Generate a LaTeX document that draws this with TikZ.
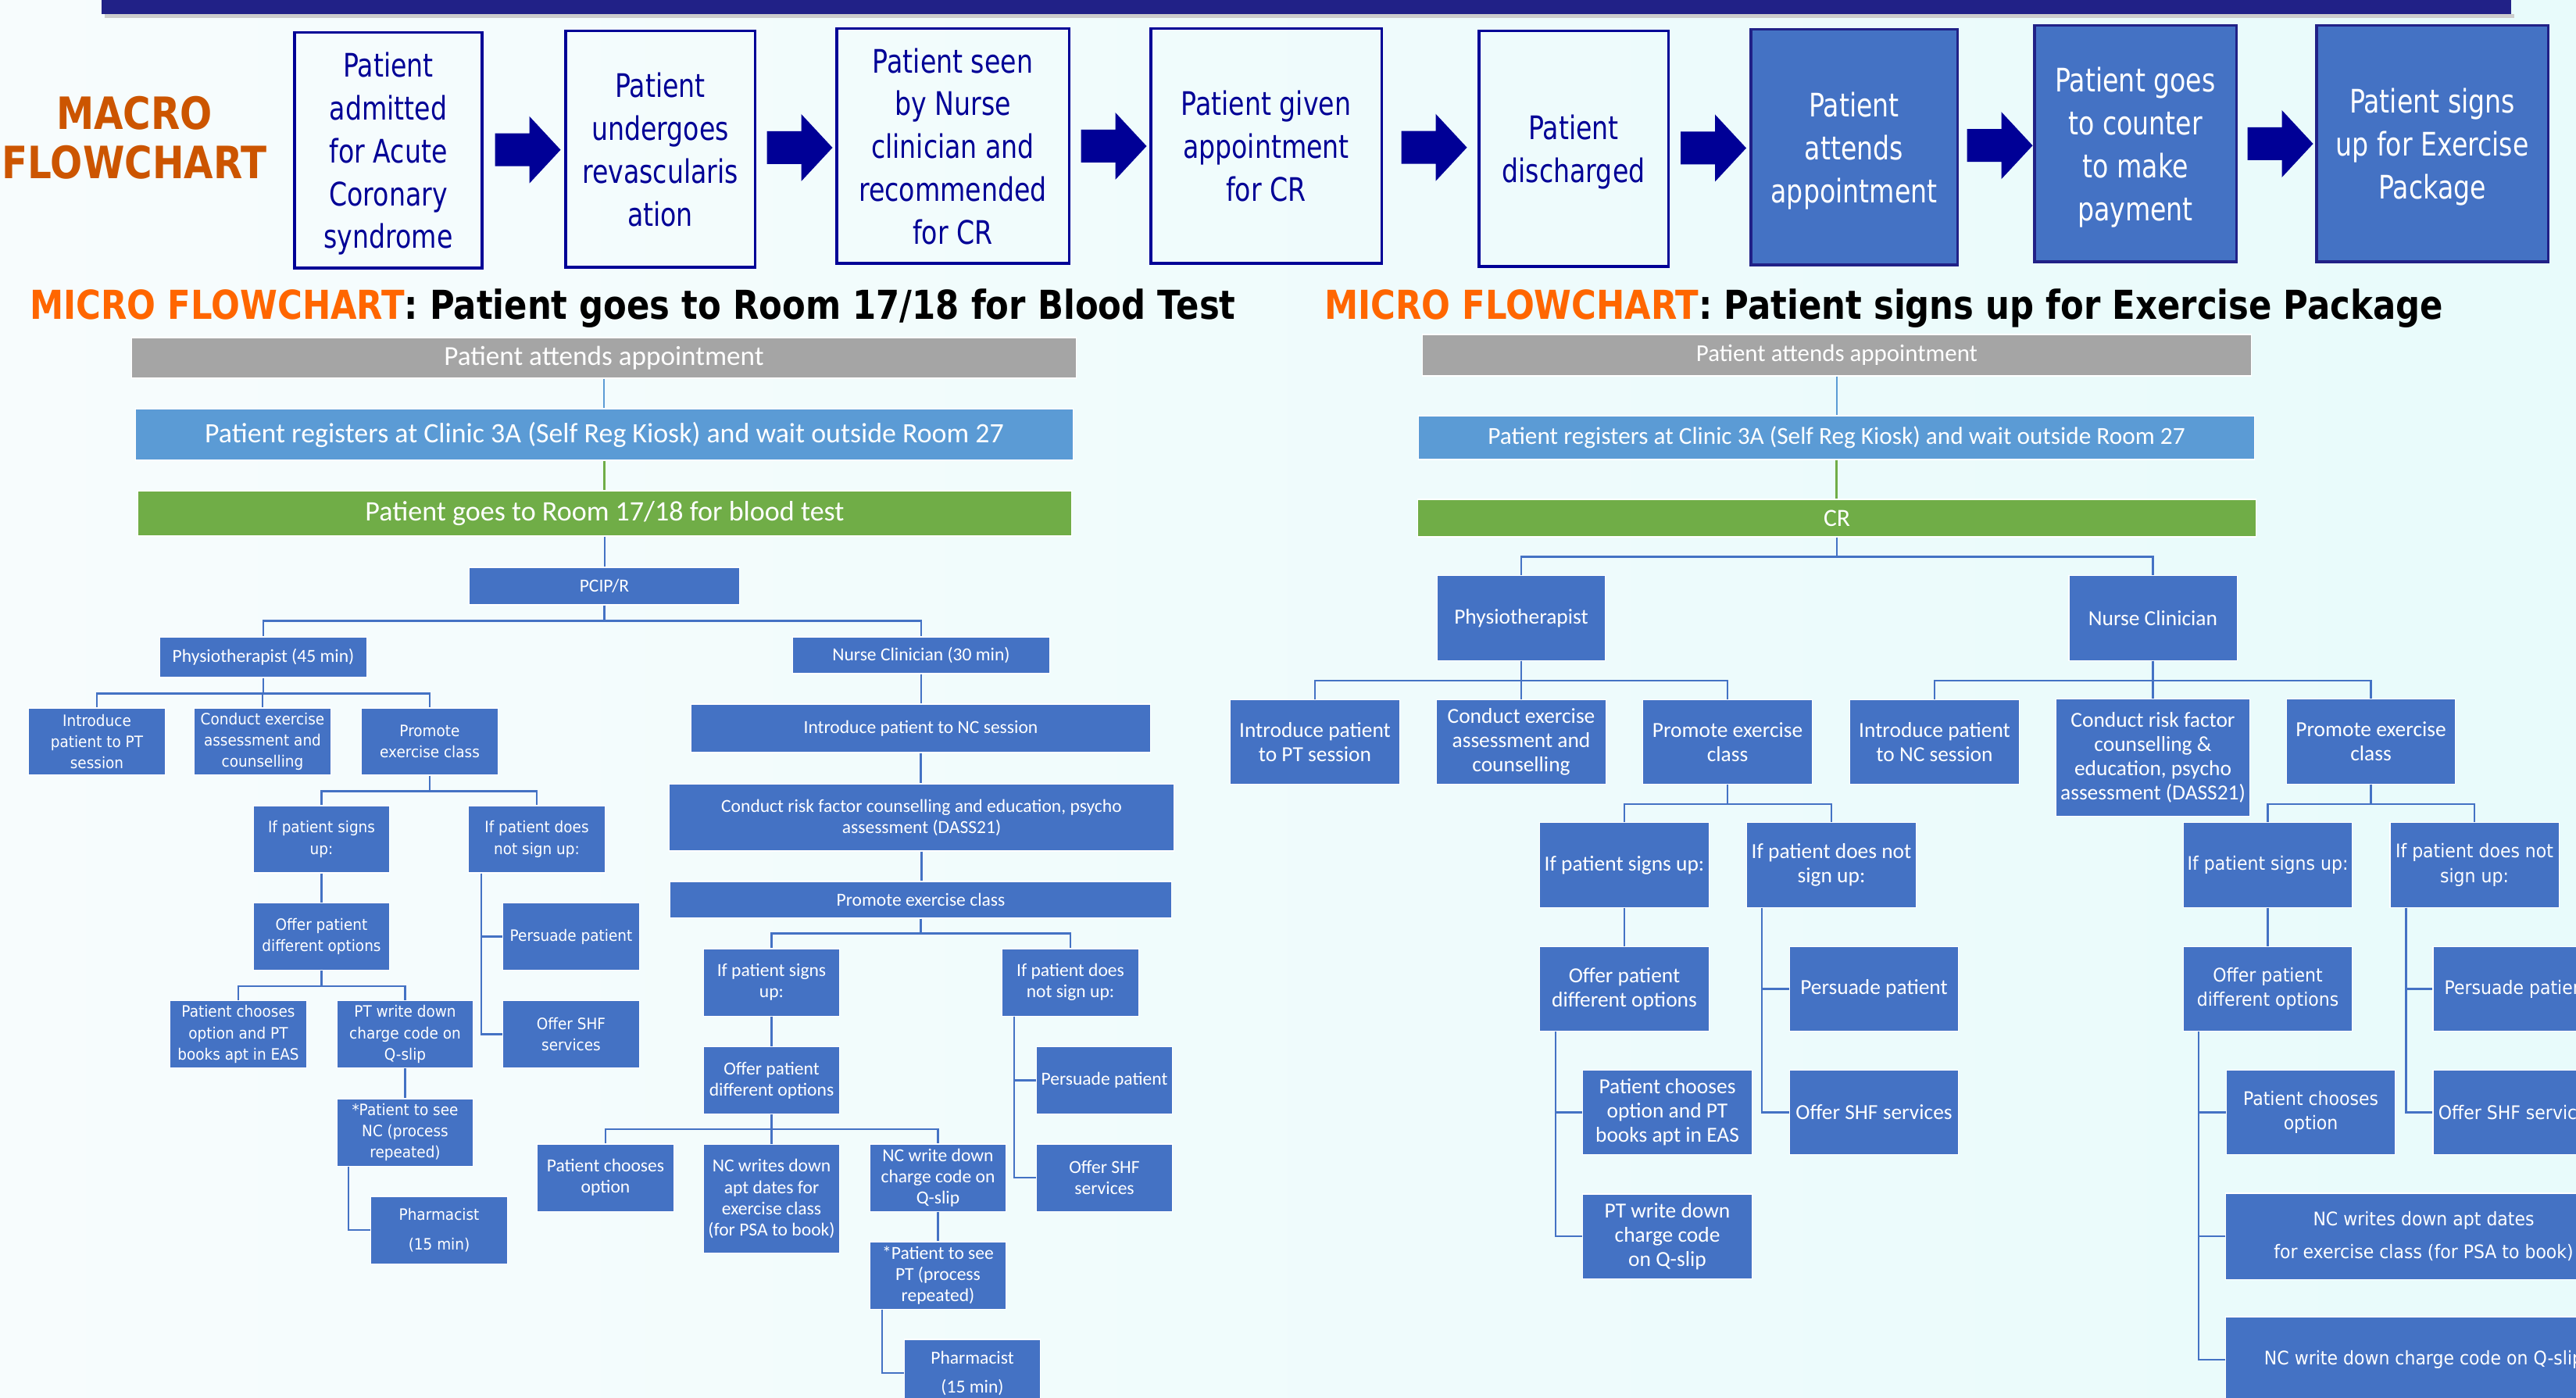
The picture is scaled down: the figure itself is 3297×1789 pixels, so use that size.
\documentclass[tikz,border=0pt]{standalone}
\usepackage{fontspec}
\setmainfont{DejaVu Sans}
\newfontfamily\macrofont{DejaVu Sans}[FakeStretch=0.8]
\newfontfamily\headfont{DejaVu Sans}[FakeStretch=0.85]
\newfontfamily\calfont{Carlito}
\newfontfamily\verfont{DejaVu Sans}[FakeStretch=0.92]
\usetikzlibrary{calc}

\definecolor{navy}{RGB}{0,0,150}
\definecolor{barnavy}{RGB}{33,33,135}
\definecolor{boxblue}{RGB}{68,114,196}
\definecolor{lightblue}{RGB}{91,155,213}
\definecolor{leafgreen}{RGB}{112,173,71}
\definecolor{midgray}{RGB}{165,165,165}
\definecolor{macroorange}{RGB}{204,85,0}
\definecolor{microorange}{RGB}{255,102,0}
\definecolor{bgleft}{RGB}{247,252,253}
\definecolor{bgright}{RGB}{232,251,251}

\tikzset{
  boxsize/.style 2 args={minimum width=#1cm, minimum height=#2cm},
  macro/.style={draw=navy, line width=0.9pt, text=navy, align=center, inner sep=0pt, text depth=0pt,
    font=\macrofont\fontsize{11.8}{15.6}\selectfont},
  macrofill/.style={macro, draw=barnavy, fill=boxblue, text=white},
  mbox/.style={fill=boxblue, draw=white, line width=0.3pt, text=white, align=center, inner sep=0pt},
  lbox/.style={mbox, boxsize={1.74}{0.86}},
  rbox/.style={mbox, boxsize={2.16}{1.08}},
  lcal/.style={font=\calfont\fontsize{6.7}{7.7}\selectfont},
  lver/.style={font=\verfont\fontsize{5.7}{7.7}\selectfont},
  rcal/.style={font=\calfont\fontsize{7.8}{8.8}\selectfont},
  rver/.style={font=\verfont\fontsize{6.8}{9}\selectfont},
  link/.style={draw=boxblue, line width=0.6pt},
  headline/.style={font=\headfont\bfseries\fontsize{14.5}{17}\selectfont, inner sep=0pt},
}

\begin{document}
\begin{tikzpicture}[x=0.01cm, y=-0.01cm]
  \useasboundingbox (0,0) rectangle (3297,1789);
  \clip (0,0) rectangle (3297,1789);
  \shade[left color=bgleft, right color=bgright] (0,0) rectangle (3297,1789);
  \fill[black!20] (134,18) rectangle (3218,23);
  \fill[barnavy] (130,0) rectangle (3214,18);

  % macro flowchart
  \node[headline, font=\headfont\bfseries\fontsize{16.2}{18}\selectfont, text=macroorange, align=center] (macrotitle) at (172,176) {MACRO\\FLOWCHART};
  \node[macro, boxsize={2.40}{3.01}] (m1) at (497,192.5) {Patient\\admitted\\for Acute\\Coronary\\syndrome};
  \node[macro, boxsize={2.42}{3.02}] (m2) at (845,191) {Patient\\undergoes\\revascularis\\ation};
  \node[macro, boxsize={2.97}{3.00}] (m3) at (1219.5,187) {Patient seen\\by Nurse\\clinician and\\recommended\\for CR};
  \node[macro, boxsize={2.95}{3.00}] (m4) at (1620.5,187) {Patient given\\appointment\\for CR};
  \node[macro, boxsize={2.42}{3.01}] (m5) at (2014,190.5) {Patient\\discharged};
  \node[macrofill, boxsize={2.64}{3.01}] (m6) at (2373,188.5) {Patient\\attends\\appointment};
  \node[macrofill, boxsize={2.58}{3.02}] (m7) at (2733,184) {Patient goes\\to counter\\to make\\payment};
  \node[macrofill, boxsize={2.96}{3.02}] (m8) at (3113,184) {Patient signs\\up for Exercise\\Package};
  \foreach \a/\b in {m1/m2,m2/m3,m3/m4,m4/m5,m5/m6,m6/m7,m7/m8}
    \fill[navy] ($(\a.east)!.5!(\b.west)+(-37,-21)$) -- ++(44,0) -- ++(0,-22) -- ++(40,43)
      -- ++(-40,43) -- ++(0,-22) -- ++(-44,0) -- cycle;

  % micro flowchart: blood test
  \node[headline] (lhead) at (810,395) {\textcolor{microorange}{MICRO FLOWCHART}: Patient goes to Room 17/18 for Blood Test};
  \node[mbox, fill=midgray, boxsize={12.08}{0.52}, font=\calfont\fontsize{10}{12}\selectfont] (lattend) at (773,458) {Patient attends appointment};
  \node[mbox, fill=lightblue, boxsize={11.99}{0.66}, font=\calfont\fontsize{10.2}{12}\selectfont] (lreg) at (773.5,556) {Patient registers at Clinic 3A (Self Reg Kiosk) and wait outside Room 27};
  \node[mbox, fill=leafgreen, boxsize={11.94}{0.58}, font=\calfont\fontsize{10.25}{12}\selectfont] (lroom) at (774,657) {Patient goes to Room 17/18 for blood test};
  \node[mbox, lcal, boxsize={3.45}{0.48}] (lpcip) at (773.5,750) {PCIP/R};
  \node[mbox, lcal, boxsize={2.64}{0.52}] (lpt) at (337,841) {Physiotherapist (45 min)};
  \node[mbox, lcal, boxsize={3.28}{0.47}] (lnc) at (1179,838.5) {Nurse Clinician (30 min)};

  \node[lbox, lver] (lptintro) at (124,949) {Introduce\\patient to PT\\session};
  \node[lbox, lver] (lptconduct) at (336,949) {Conduct exercise\\assessment and\\counselling};
  \node[lbox, lver] (lptpromote) at (550,949) {Promote\\exercise class};
  \node[lbox, lver] (lptyes) at (411.5,1074) {If patient signs\\up:};
  \node[lbox, lver] (lptno) at (687,1074) {If patient does\\not sign up:};
  \node[lbox, lver] (lptoffer) at (411.5,1198.5) {Offer patient\\different options};
  \node[lbox, lver] (lptchoose) at (305,1323.5) {Patient chooses\\option and PT\\books apt in EAS};
  \node[lbox, lver] (lptcharge) at (518.5,1323.5) {PT write down\\charge code on\\Q-slip};
  \node[lbox, lver] (lptseenc) at (518.5,1449) {*Patient to see\\NC (process\\repeated)};
  \node[lbox, lver] (lptpharm) at (562,1574) {Pharmacist\\[3.1pt](15 min)};
  \node[lbox, lver] (lptpersuade) at (731,1198.5) {Persuade patient};
  \node[lbox, lver] (lptshf) at (731,1323.5) {Offer SHF\\services};

  \node[mbox, lcal, boxsize={5.87}{0.62}] (lncintro) at (1178.5,932) {Introduce patient to NC session};
  \node[mbox, lcal, boxsize={6.45}{0.86}] (lncconduct) at (1179.5,1046) {Conduct risk factor counselling and education, psycho\\assessment (DASS21)};
  \node[mbox, lcal, boxsize={6.41}{0.47}] (lncpromote) at (1178.5,1151.5) {Promote exercise class};
  \node[lbox, lcal] (lncyes) at (987.5,1257) {If patient signs\\up:};
  \node[lbox, lcal] (lncno) at (1370,1257) {If patient does\\not sign up:};
  \node[lbox, lcal] (lncoffer) at (987.5,1382.5) {Offer patient\\different options};
  \node[lbox, lcal] (lncchoose) at (775,1507) {Patient chooses\\option};
  \node[lbox, lcal, boxsize={1.73}{1.38}] (lncdates) at (987.5,1534) {NC writes down\\apt dates for\\exercise class\\(for PSA to book)};
  \node[lbox, lcal] (lnccharge) at (1200.5,1507) {NC write down\\charge code on\\Q-slip};
  \node[lbox, lcal] (lncseept) at (1200.5,1632) {*Patient to see\\PT (process\\repeated)};
  \node[lbox, lcal] (lncpharm) at (1244.5,1757) {Pharmacist\\[2.8pt](15 min)};
  \node[lbox, lcal] (lncpersuade) at (1413.5,1382.5) {Persuade patient};
  \node[lbox, lcal] (lncshf) at (1413.5,1507) {Offer SHF\\services};

  \draw[lightblue, line width=0.6pt] (lattend.south) -- (lattend.south |- lreg.north);
  \draw[leafgreen, line width=0.6pt] (lreg.south) -- (lreg.south |- lroom.north);
  \draw[link] (lroom.south) -- (lroom.south |- lpcip.north);
  \draw[link] (lpcip.south) -- ++(0,20) -| (lpt.north);
  \draw[link] (lpcip.south) -- ++(0,20) -| (lnc.north);
  \foreach \c in {lptintro,lptconduct,lptpromote}
    \draw[link] (lpt.south) -- ++(0,20) -| (\c.north);
  \foreach \c in {lptyes,lptno}
    \draw[link] (lptpromote.south) -- ++(0,20) -| (\c.north);
  \draw[link] (lptyes.south) -- (lptyes.south |- lptoffer.north);
  \foreach \c in {lptchoose,lptcharge}
    \draw[link] (lptoffer.south) -- ++(0,20) -| (\c.north);
  \draw[link] (lptcharge.south) -- (lptcharge.south |- lptseenc.north);
  \draw[link] ($(lptseenc.south west)+(15,0)$) |- (lptpharm.west);
  \draw[link] ($(lptno.south west)+(17,0)$) |- (lptpersuade.west);
  \draw[link] ($(lptno.south west)+(17,0)$) |- (lptshf.west);

  \draw[link] (lnc.south) -- (lnc.south |- lncintro.north);
  \draw[link] (lncintro.south) -- (lncintro.south |- lncconduct.north);
  \draw[link] (lncconduct.south) -- (lncconduct.south |- lncpromote.north);
  \foreach \c in {lncyes,lncno}
    \draw[link] (lncpromote.south) -- ++(0,19) -| (\c.north);
  \draw[link] (lncyes.south) -- (lncyes.south |- lncoffer.north);
  \foreach \c in {lncchoose,lncdates,lnccharge}
    \draw[link] (lncoffer.south) -- ++(0,19) -| (\c.north);
  \draw[link] (lnccharge.south) -- (lnccharge.south |- lncseept.north);
  \draw[link] ($(lncseept.south west)+(16,0)$) |- (lncpharm.west);
  \draw[link] ($(lncno.south west)+(16,0)$) |- (lncpersuade.west);
  \draw[link] ($(lncno.south west)+(16,0)$) |- (lncshf.west);

  % micro flowchart: exercise package
  \node[headline] (rhead) at (2411,395) {\textcolor{microorange}{MICRO FLOWCHART}: Patient signs up for Exercise Package};
  \node[mbox, fill=midgray, boxsize={10.60}{0.53}, font=\calfont\fontsize{8.8}{10}\selectfont] (rattend) at (2351,454.5) {Patient attends appointment};
  \node[mbox, fill=lightblue, boxsize={10.69}{0.56}, font=\calfont\fontsize{8.9}{10}\selectfont] (rreg) at (2350.5,560) {Patient registers at Clinic 3A (Self Reg Kiosk) and wait outside Room 27};
  \node[mbox, fill=leafgreen, boxsize={10.72}{0.48}, font=\calfont\fontsize{9}{10}\selectfont] (rcr) at (2351,663) {CR};
  \node[mbox, rcal, boxsize={2.14}{1.08}] (rpt) at (1947,791) {Physiotherapist};
  \node[mbox, rcal, boxsize={2.15}{1.08}] (rnc) at (2755.5,791) {Nurse Clinician};

  \node[rbox, rcal] (rptintro) at (1683,949.5) {Introduce patient\\to PT session};
  \node[rbox, rcal] (rptconduct) at (1947,949.5) {Conduct exercise\\assessment and\\counselling};
  \node[rbox, rcal] (rptpromote) at (2211,949.5) {Promote exercise\\class};
  \node[rbox, rcal] (rncintro) at (2476,949.5) {Introduce patient\\to NC session};
  \node[rbox, rcal, boxsize={2.47}{1.49}] (rncconduct) at (2755.5,969.5) {Conduct risk factor\\counselling \&\\education, psycho\\assessment (DASS21)};
  \node[rbox, rcal] (rncpromote) at (3034.5,949) {Promote exercise\\class};

  \node[rbox, rcal] (rptyes) at (2079,1107) {If patient signs up:};
  \node[rbox, rcal] (rptno) at (2344,1107) {If patient does not\\sign up:};
  \node[rbox, rcal] (rptoffer) at (2079,1265.5) {Offer patient\\different options};
  \node[rbox, rcal] (rptchoose) at (2134,1423.5) {Patient chooses\\option and PT\\books apt in EAS};
  \node[rbox, rcal] (rptcharge) at (2134,1582) {PT write down\\charge code\\on Q-slip};
  \node[rbox, rcal] (rptpersuade) at (2398.5,1265.5) {Persuade patient};
  \node[rbox, rcal] (rptshf) at (2398.5,1423.5) {Offer SHF services};

  \node[rbox, rver] (rncyes) at (2902.5,1107) {If patient signs up:};
  \node[rbox, rver] (rncno) at (3167,1107) {If patient does not\\sign up:};
  \node[rbox, rver] (rncoffer) at (2902.5,1265.5) {Offer patient\\different options};
  \node[rbox, rver] (rncchoose) at (2957.5,1423.5) {Patient chooses\\option};
  \node[rbox, rver, boxsize={5.06}{1.10}] (rncdates) at (3102,1582) {NC writes down apt dates\\[3.2pt]for exercise class (for PSA to book)};
  \node[rbox, rver, boxsize={5.06}{1.10}] (rnccharge) at (3102,1740) {NC write down charge code on Q-slip};
  \node[rbox, rver] (rncpersuade) at (3222,1265.5) {Persuade patient};
  \node[rbox, rver] (rncshf) at (3222,1423.5) {Offer SHF services};

  \draw[lightblue, line width=0.6pt] (rattend.south) -- (rattend.south |- rreg.north);
  \draw[leafgreen, line width=0.6pt] (rreg.south) -- (rreg.south |- rcr.north);
  \foreach \c in {rpt,rnc}
    \draw[link] (rcr.south) -- ++(0,25) -| (\c.north);
  \foreach \c in {rptintro,rptconduct,rptpromote}
    \draw[link] (rpt.south) -- ++(0,25) -| (\c.north);
  \foreach \c in {rncintro,rncconduct,rncpromote}
    \draw[link] (rnc.south) -- ++(0,25) -| (\c.north);
  \foreach \c in {rptyes,rptno}
    \draw[link] (rptpromote.south) -- ++(0,25) -| (\c.north);
  \draw[link] (rptyes.south) -- (rptyes.south |- rptoffer.north);
  \foreach \c in {rptchoose,rptcharge}
    \draw[link] ($(rptoffer.south west)+(21,0)$) |- (\c.west);
  \foreach \c in {rptpersuade,rptshf}
    \draw[link] ($(rptno.south west)+(20,0)$) |- (\c.west);
  \foreach \c in {rncyes,rncno}
    \draw[link] (rncpromote.south) -- ++(0,25) -| (\c.north);
  \draw[link] (rncyes.south) -- (rncyes.south |- rncoffer.north);
  \foreach \c in {rncchoose,rncdates,rnccharge}
    \draw[link] ($(rncoffer.south west)+(20,0)$) |- (\c.west);
  \foreach \c in {rncpersuade,rncshf}
    \draw[link] ($(rncno.south west)+(21,0)$) |- (\c.west);
\end{tikzpicture}
\end{document}
